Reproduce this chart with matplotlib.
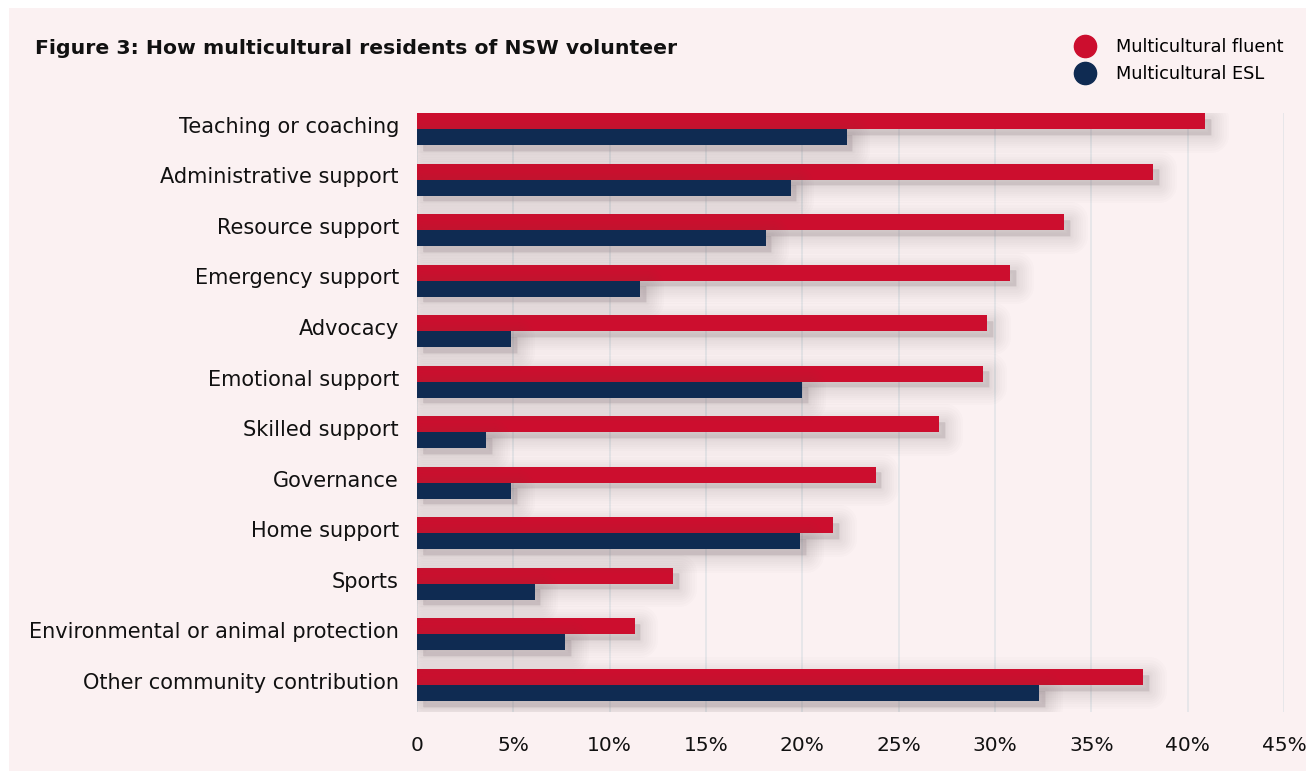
import matplotlib
matplotlib.use("Agg")
import matplotlib.pyplot as plt
import matplotlib.patheffects as pe
import matplotlib.transforms as mtransforms
from matplotlib.patches import Rectangle
from matplotlib.lines import Line2D
import numpy as np

categories = [
    "Teaching or coaching",
    "Administrative support",
    "Resource support",
    "Emergency support",
    "Advocacy",
    "Emotional support",
    "Skilled support",
    "Governance",
    "Home support",
    "Sports",
    "Environmental or animal protection",
    "Other community contribution",
]
fluent = [40.9, 38.2, 33.6, 30.8, 29.6, 29.4, 27.1, 23.8, 21.6, 13.3, 11.3, 37.7]
esl = [22.3, 19.4, 18.1, 11.6, 4.9, 20.0, 3.6, 4.9, 19.9, 6.1, 7.7, 32.3]
series_names = ["Multicultural fluent", "Multicultural ESL"]
xticks = [0, 5, 10, 15, 20, 25, 30, 35, 40, 45]
xtick_labels = ["0", "5%", "10%", "15%", "20%", "25%", "30%", "35%", "40%", "45%"]

RED = "#CC0E2E"
NAVY = "#0F2B52"
BG = "#FBF1F2"
GRID = "#E4E4E8"

W, H = 1306, 771
fig = plt.figure(figsize=(W / 100, H / 100), dpi=100)
fig.patch.set_facecolor("white")
fig.patches.append(Rectangle((9 / W, 0), 1 - 9 / W, 1 - 8 / H,
                             transform=fig.transFigure, facecolor=BG,
                             edgecolor="none", zorder=-10))

ax = fig.add_axes([417 / W, 1 - 712 / H, (1284 - 417) / W, (712 - 113) / H])
ax.set_facecolor("none")

bar_h = 0.317
y = np.arange(len(categories))

# soft drop shadow built from stacked translucent strokes
shadow = [pe.PathPatchEffect(offset=(4, -4), facecolor="#6a5a60", edgecolor="#6a5a60",
                             linewidth=lw, alpha=0.02, joinstyle="round")
          for lw in (26, 22, 18, 15, 12, 9, 6, 4)]

ax.barh(y - bar_h / 2, fluent, height=bar_h, color=RED, zorder=3,
        path_effects=shadow + [pe.Normal()])
ax.barh(y + bar_h / 2, esl, height=bar_h, color=NAVY, zorder=3,
        path_effects=shadow + [pe.Normal()])

ax.set_xlim(0, 45)
ax.set_ylim(11 + 27 / 50.5, -bar_h)
ax.set_xticks(xticks)
ax.set_xticklabels(xtick_labels, fontsize=14.5, color="#111111")
ax.set_yticks(y)
ax.set_yticklabels(categories, fontsize=15, color="#111111")
ax.tick_params(axis="both", length=0)
ax.tick_params(axis="x", pad=17)
ax.tick_params(axis="y", pad=13)
lift = mtransforms.ScaledTranslation(0, 3 / 72, fig.dpi_scale_trans)
for lbl in ax.get_yticklabels():
    lbl.set_transform(lbl.get_transform() + lift)
for s in ax.spines.values():
    s.set_visible(False)
ax.grid(axis="x", color=GRID, linewidth=1.2, zorder=0)
ax.set_axisbelow(True)

fig.text(35 / W, 1 - 49 / H, "Figure 3: How multicultural residents of NSW volunteer",
         fontsize=14.7, fontweight="bold", va="center", ha="left", color="#111111")

handles = [Line2D([], [], marker="o", linestyle="none", markersize=16,
                  markerfacecolor=c, markeredgecolor=c) for c in (RED, NAVY)]
fig.legend(handles, series_names, loc="upper right",
           bbox_to_anchor=(1292 / W, 1 - 29 / H), frameon=False,
           fontsize=12.8, handletextpad=1.1, labelspacing=0.5, borderpad=0,
           handlelength=1.2)

fig.savefig("out.png", dpi=100, facecolor=fig.get_facecolor())
